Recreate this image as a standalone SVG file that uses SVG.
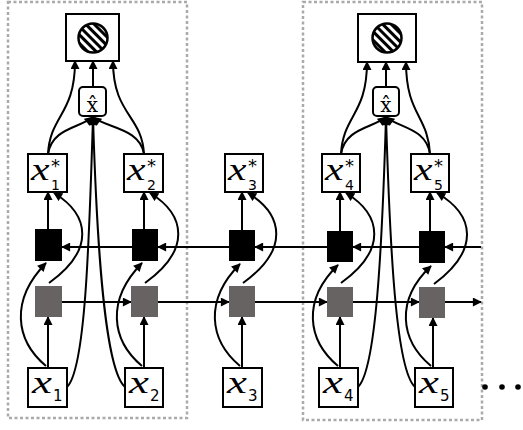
<svg xmlns="http://www.w3.org/2000/svg" width="523" height="430" viewBox="0 0 523 430">
<style>
.ln{fill:none;stroke:#000;stroke-width:2}
.ar{fill:none;stroke:#000;stroke-width:2;marker-end:url(#ah)}
.box{fill:#fff;stroke:#000;stroke-width:2}
.blk{fill:#000}
.gry{fill:#676363}
.dash{fill:none;stroke:#aaa;stroke-width:2.5;stroke-dasharray:3 2.5}
.mx{font-family:"Liberation Serif",serif;font-style:italic;font-size:32px;fill:#000}
.sb{font-family:"DejaVu Sans",sans-serif;font-size:15px;fill:#000}
.sb2{font-family:"DejaVu Sans",sans-serif;font-size:14px;fill:#000}
.st{font-family:"DejaVu Sans",sans-serif;font-size:18px;fill:#000}
.hx{font-family:"DejaVu Serif",serif;font-size:20px;fill:#000;text-anchor:middle}
</style>
<defs>
<marker id="ah" viewBox="0 0 10 10" refX="9" refY="5" markerWidth="10" markerHeight="9" markerUnits="userSpaceOnUse" orient="auto"><path d="M0 0 L10 5 L0 10 z" fill="#000"/></marker>
<pattern id="hatch" width="6" height="6" patternUnits="userSpaceOnUse" patternTransform="rotate(-45)"><rect x="0" y="0" width="3" height="6" fill="#000"/></pattern>
</defs>
<rect width="523" height="430" fill="#fff"/>
<g id="groups">
<rect class="dash" x="8" y="2" width="179" height="416"/>
<rect class="dash" x="303" y="2" width="179" height="418"/>
</g>
<g id="connectors">
<path class="ar" d="M93 87 L93 61"/>
<path class="ar" d="M48 154 C50 115 75 115 75 61"/>
<path class="ar" d="M144 154 C142 115 113 115 113 61"/>
<path class="ar" d="M48 154 C52 128 80 128 93 117"/>
<path class="ar" d="M144 154 C140 128 106 128 93 117"/>
<path class="ar" d="M67 387 C85 370 89 250 93 117"/>
<path class="ar" d="M125 387 C105 370 97 250 93 117"/>
<path class="ar" d="M386 87 L386 62"/>
<path class="ar" d="M341 154 C343 115 367 115 367 62"/>
<path class="ar" d="M430 154 C428 115 406 115 406 62"/>
<path class="ar" d="M341 154 C345 128 373 128 386 117"/>
<path class="ar" d="M430 154 C426 128 399 128 386 117"/>
<path class="ar" d="M358 387 C376 370 382 250 386 117"/>
<path class="ar" d="M415 387 C396 370 390 250 386 117"/>
<path class="ar" d="M132 247 L62 247"/>
<path class="ar" d="M229 247 L158 247"/>
<path class="ar" d="M327 247 L255 247"/>
<path class="ar" d="M419 247 L353 247"/>
<path class="ar" d="M481 247 L445 247"/>
<path class="ar" d="M62 302 L131 302"/>
<path class="ar" d="M158 302 L229 302"/>
<path class="ar" d="M255 302 L327 302"/>
<path class="ar" d="M353 302 L419 302"/>
<path class="ar" d="M445 302 L481 302"/>
<path class="ar" d="M48 368 L48 317"/>
<path class="ar" d="M48 229 L48 192"/>
<path class="ar" d="M144 368 L144 317"/>
<path class="ar" d="M144 229 L144 192"/>
<path class="ar" d="M242 368 L242 317"/>
<path class="ar" d="M242 230 L242 192"/>
<path class="ar" d="M340 368 L340 317"/>
<path class="ar" d="M340 231 L340 192"/>
<path class="ar" d="M433 368 L433 318"/>
<path class="ar" d="M430 231 L430 192"/>
<path class="ar" d="M46 366 C15 340 10 300 46 263"/>
<path class="ar" d="M49 283 C95 250 90 215 54 193"/>
<path class="ar" d="M142 366 C111 340 106 300 142 263"/>
<path class="ar" d="M145 283 C191 250 186 215 150 193"/>
<path class="ar" d="M240 366 C209 340 204 300 240 264"/>
<path class="ar" d="M243 283 C289 250 284 215 248 193"/>
<path class="ar" d="M338 366 C307 340 302 300 338 265"/>
<path class="ar" d="M341 283 C387 250 382 215 346 193"/>
<path class="ar" d="M431 366 C400 340 395 300 431 266"/>
<path class="ar" d="M434 284 C480 250 475 215 437 193"/>
</g>
<g id="top1"><rect class="box" x="66" y="14" width="53" height="47"/><circle cx="93" cy="38" r="14.5" fill="url(#hatch)" stroke="#000" stroke-width="2.5"/></g>
<g id="top2"><rect class="box" x="358" y="14" width="58" height="48"/><circle cx="387" cy="38" r="14.5" fill="url(#hatch)" stroke="#000" stroke-width="2.5"/></g>
<g id="xhat1"><rect class="box" x="79" y="87" width="27" height="29" rx="4"/><text class="hx" x="92.5" y="112">x̂</text></g>
<g id="xhat2"><rect class="box" x="373" y="87" width="26" height="29" rx="4"/><text class="hx" x="386" y="112">x̂</text></g>
<g id="b1"><rect class="blk" x="35" y="229" width="27" height="32"/></g>
<g id="b2"><rect class="blk" x="132" y="229" width="26" height="32"/></g>
<g id="b3"><rect class="blk" x="229" y="230" width="26" height="31"/></g>
<g id="b4"><rect class="blk" x="327" y="231" width="26" height="31"/></g>
<g id="b5"><rect class="blk" x="419" y="231" width="26" height="32"/></g>
<g id="g1"><rect class="gry" x="35" y="286" width="27" height="31"/></g>
<g id="g2"><rect class="gry" x="131" y="286" width="27" height="31"/></g>
<g id="g3"><rect class="gry" x="229" y="286" width="26" height="31"/></g>
<g id="g4"><rect class="gry" x="327" y="287" width="26" height="30"/></g>
<g id="g5"><rect class="gry" x="419" y="287" width="26" height="31"/></g>
<g id="xs1"><rect class="box" x="28" y="154" width="39" height="38"/><text class="mx" transform="translate(31,180) scale(1.3,1)">x</text><text class="st" x="51" y="172">*</text><text class="sb2" x="51" y="190">1</text></g>
<g id="xs2"><rect class="box" x="124" y="154" width="39" height="38"/><text class="mx" transform="translate(127,180) scale(1.3,1)">x</text><text class="st" x="147" y="172">*</text><text class="sb2" x="147" y="190">2</text></g>
<g id="xs3"><rect class="box" x="225" y="154" width="38" height="38"/><text class="mx" transform="translate(228,180) scale(1.3,1)">x</text><text class="st" x="248" y="172">*</text><text class="sb2" x="248" y="190">3</text></g>
<g id="xs4"><rect class="box" x="322" y="154" width="38" height="38"/><text class="mx" transform="translate(325,180) scale(1.3,1)">x</text><text class="st" x="345" y="172">*</text><text class="sb2" x="345" y="190">4</text></g>
<g id="xs5"><rect class="box" x="411" y="154" width="38" height="38"/><text class="mx" transform="translate(414,180) scale(1.3,1)">x</text><text class="st" x="434" y="172">*</text><text class="sb2" x="434" y="190">5</text></g>
<g id="x1"><rect class="box" x="28" y="368" width="39" height="39"/><text class="mx" transform="translate(32,393) scale(1.4,1)">x</text><text class="sb" x="53" y="401">1</text></g>
<g id="x2"><rect class="box" x="125" y="368" width="38" height="39"/><text class="mx" transform="translate(129,393) scale(1.4,1)">x</text><text class="sb" x="150" y="401">2</text></g>
<g id="x3"><rect class="box" x="223" y="368" width="39" height="39"/><text class="mx" transform="translate(227,393) scale(1.4,1)">x</text><text class="sb" x="248" y="401">3</text></g>
<g id="x4"><rect class="box" x="319" y="368" width="39" height="39"/><text class="mx" transform="translate(323,393) scale(1.4,1)">x</text><text class="sb" x="344" y="401">4</text></g>
<g id="x5"><rect class="box" x="415" y="368" width="38" height="39"/><text class="mx" transform="translate(419,393) scale(1.4,1)">x</text><text class="sb" x="440" y="401">5</text></g>
<g id="dots"><circle cx="485" cy="387" r="2.8"/><circle cx="502" cy="387" r="2.8"/><circle cx="518" cy="387" r="2.8"/></g>
</svg>
